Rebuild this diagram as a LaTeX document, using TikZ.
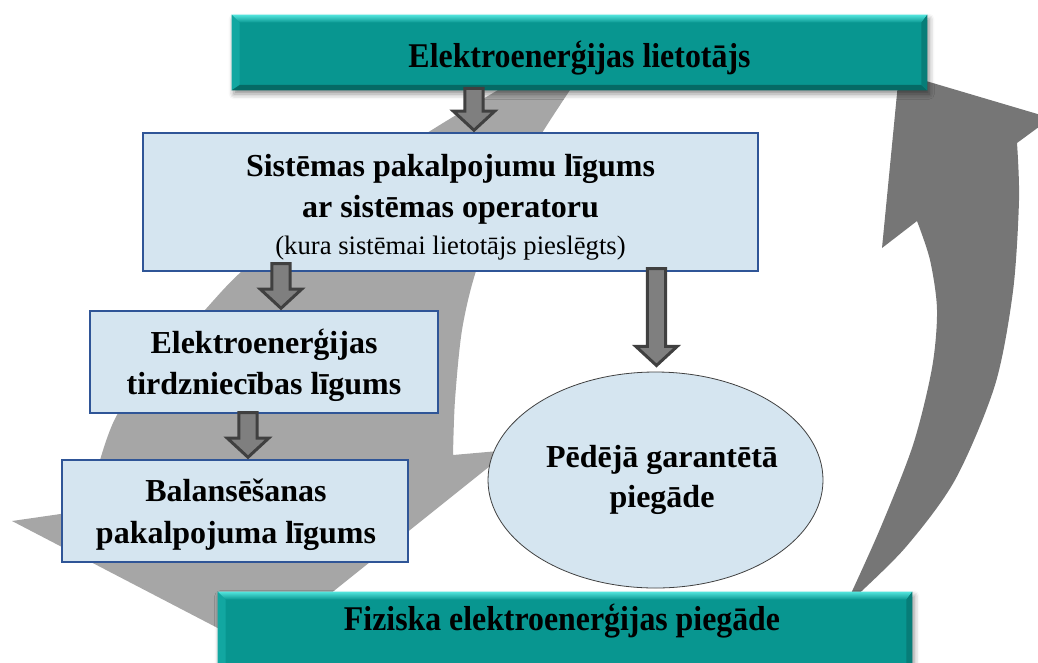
\documentclass[tikz,border=0pt]{standalone}
\usepackage{fontspec}
\setmainfont{Liberation Serif}
\usetikzlibrary{calc,fit,shapes.geometric,shadows.blur}
\definecolor{teal0}{HTML}{089690}
\definecolor{tealhi}{HTML}{52E4DC}
\definecolor{tealleft}{HTML}{12A7A1}
\definecolor{tealdark}{HTML}{056A65}
\definecolor{tealright}{HTML}{077D78}
\definecolor{boxfill}{HTML}{D5E5F0}
\definecolor{boxline}{HTML}{2F5597}
\definecolor{bandlight}{HTML}{A6A6A6}
\definecolor{banddark}{HTML}{767676}
\definecolor{arrowfill}{HTML}{7F7F7F}
\definecolor{arrowline}{HTML}{404040}
\tikzset{
 lbox/.style={draw=boxline, fill=boxfill, line width=0.9pt, inner sep=0pt, rectangle},
 tealbox/.style={fill=teal0, inner sep=0pt, rectangle,
   blur shadow={shadow xshift=1.5pt, shadow yshift=-3pt, shadow blur radius=4pt, shadow opacity=45}},
 oval/.style={ellipse, draw=arrowline, fill=boxfill, line width=0.6pt, inner sep=0pt,
   minimum width=251.25pt, minimum height=162pt},
 bt/.style={font=\fontsize{24}{28}\selectfont\bfseries, anchor=base, inner sep=0pt},
 st/.style={font=\fontsize{20}{24}\selectfont, anchor=base, inner sep=0pt},
 tt/.style={font=\fontsize{26}{30}\selectfont\bfseries, anchor=base, inner sep=0pt},
 blockarrow/.style={draw=arrowline, fill=arrowfill, line width=2.25pt, miter limit=10,
   to path={let \p1=(\tikztostart), \p2=(\tikztotarget) in
     (\x1-6.9pt,\y1) -- (\x1+6.9pt,\y1) -- (\x1+6.9pt,\y2+16pt) -- (\x1+15.6pt,\y2+16pt)
     -- (\x1,\y2+1.6pt) -- (\x1-15.6pt,\y2+16pt) -- (\x1-6.9pt,\y2+16pt) -- cycle}}
}
\newcommand\bevelbox[1]{%
 \shade[top color=tealhi, bottom color=teal0] (#1.north west) -- (#1.north east)
   -- ($(#1.north east)+(-4.5pt,-6pt)$) -- ($(#1.north west)+(6pt,-6pt)$) -- cycle;
 \fill[tealleft] (#1.north west) -- ($(#1.north west)+(6pt,-6pt)$)
   -- ($(#1.south west)+(6pt,4pt)$) -- (#1.south west) -- cycle;
 \fill[tealdark] (#1.south west) -- ($(#1.south west)+(6pt,4pt)$)
   -- ($(#1.south east)+(-4.5pt,4pt)$) -- (#1.south east) -- cycle;
 \fill[tealright] (#1.north east) -- ($(#1.north east)+(-4.5pt,-6pt)$)
   -- ($(#1.south east)+(-4.5pt,4pt)$) -- (#1.south east) -- cycle;
}
\begin{document}
\begin{tikzpicture}[x=0.75pt,y=-0.75pt]
\useasboundingbox (0,0) rectangle (1038,662);
\clip (0,0) rectangle (1038,662);
% light curved band
\fill[bandlight] (590,60) -- (548,60)
  -- plot[smooth,tension=0.5] coordinates {(548,60) (498,90) (427,133) (325,200) (242,271) (204,311) (151,370) (117,415) (100,460) (88,510)}
  -- (12,521) -- (260,650) -- (510,450) -- (453,455)
  -- plot[smooth,tension=0.5] coordinates {(453,455) (455,400) (462,330) (476,271) (505,195) (542,133) (570,90) (590,60)}
  -- cycle;
% dark curved band
\fill[banddark] (899,73) -- (1051,118) -- (1017,143)
  -- plot[smooth,tension=0.5] coordinates {(1017,143) (1019,200) (1013,291) (995,385) (955,480) (905,548) (852,600)}
  -- plot[smooth,tension=0.5] coordinates {(848,600) (880,529) (913,445) (932,368) (937,310) (930,260) (917,221)}
  -- (882,248) -- cycle;
% teal boxes
\node[tealbox, fit={(232,15) (927,90)}] (top) {};
\bevelbox{top}
\node[tealbox, fit={(218,592) (912,690)}] (bot) {};
\bevelbox{bot}
% light boxes
\node[lbox, fit={(143,133) (758,271)}] (sys) {};
\node[lbox, fit={(90,311) (438,413)}] (b2) {};
\node[lbox, fit={(62,460) (408,562)}] (b3) {};
\node[oval] (oval) at (655.5,480) {};
% block arrows
\coordinate (a1) at (474,0);
\coordinate (a2) at (281,0);
\coordinate (a3) at (248,0);
\coordinate (a4) at (656.5,0);
\draw[blockarrow] ($(top.south -| a1)+(0,-2)$) to (sys.north -| a1);
\draw[blockarrow] ($(sys.south -| a2)+(0,-8)$) to (b2.north -| a2);
\draw[blockarrow] ($(b2.south -| a3)+(0,-1)$) to (b3.north -| a3);
\draw[blockarrow] ($(sys.south -| a4)+(0,-3)$) to ($(oval.north)+(0,-4)$);
% texts
\node[tt] (ttop) at (579.5,67) {\resizebox{256.5pt}{\height}{Elektroenerģijas lietotājs}};
\node[tt] (tbot) at (562,630) {\resizebox{327pt}{\height}{Fiziska elektroenerģijas piegāde}};
\node[bt] (ts1) at (450.5,176) {Sistēmas pakalpojumu līgums};
\node[bt] (ts2) at (450.5,217) {ar sistēmas operatoru};
\node[st] (ts3) at (450.5,254) {(kura sistēmai lietotājs pieslēgts)};
\node[bt] (tb21) at (264,353) {Elektroenerģijas};
\node[bt] (tb22) at (264,394) {tirdzniecības līgums};
\node[bt] (tb31) at (236,501) {Balansēšanas};
\node[bt] (tb32) at (236,543) {pakalpojuma līgums};
\node[bt] (to1) at (662,467) {Pēdējā garantētā};
\node[bt] (to2) at (662,507) {piegāde};
\end{tikzpicture}
\end{document}
